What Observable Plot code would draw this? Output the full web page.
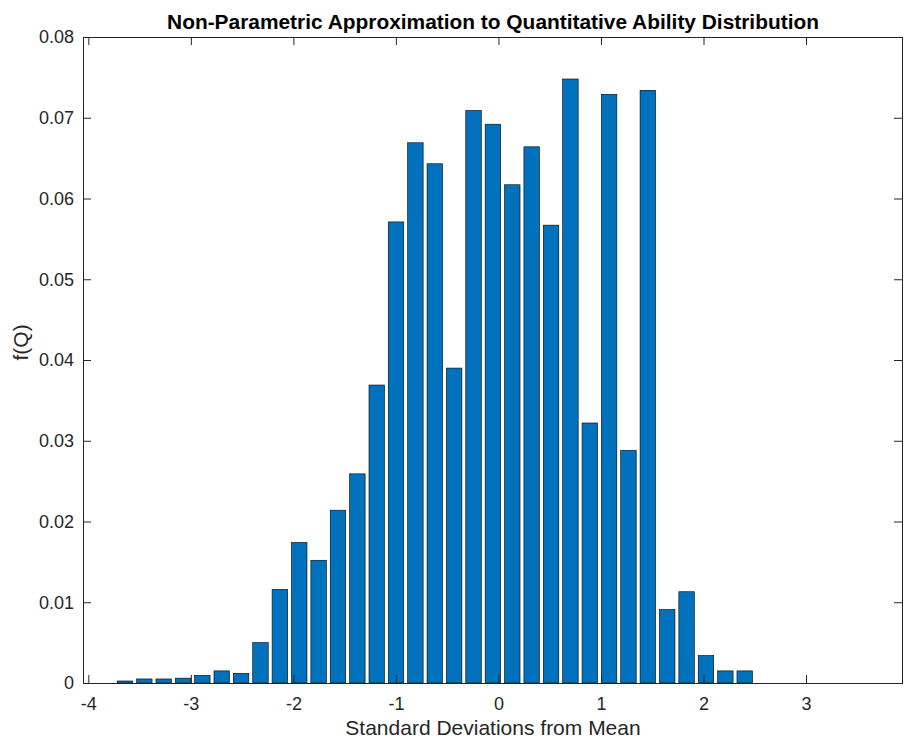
<!DOCTYPE html>
<html>
<head>
<meta charset="utf-8">
<script src="https://cdn.jsdelivr.net/npm/d3@7"></script>
<script src="https://cdn.jsdelivr.net/npm/@observablehq/plot@0.6"></script>
<style>
  html, body { margin: 0; padding: 0; background: #ffffff; }
</style>
</head>
<body>
<div id="chart"></div>
<script>
// ---- Data ----
const binCenters = [
  -3.832, -3.643, -3.454, -3.265, -3.076, -2.888, -2.699, -2.510, -2.321, -2.132,
  -1.943, -1.754, -1.565, -1.376, -1.187, -0.999, -0.810, -0.621, -0.432, -0.243,
  -0.054,  0.135,  0.324,  0.513,  0.702,  0.891,  1.079,  1.268,  1.457,  1.646,
   1.835,  2.024,  2.213,  2.402,  2.591,  2.780,  2.968,  3.157,  3.346,  3.535,
   3.724
];
const density = [
  0.0000, 0.00025, 0.0005, 0.0005, 0.0006, 0.00094, 0.0015, 0.0012, 0.0050, 0.0116,
  0.0174, 0.0152, 0.0214, 0.0259, 0.0369, 0.0571, 0.0669, 0.0643, 0.0390, 0.0709,
  0.0692, 0.0617, 0.0664, 0.0567, 0.0748, 0.0322, 0.0729, 0.0288, 0.0734, 0.0091,
  0.0113, 0.0034, 0.0015, 0.0015, 0.0000, 0.0000, 0.0000, 0.0000, 0.0000, 0.0000,
  0.0000
];
const binWidth = 0.1889;
const barFraction = 0.8;
const xTicks = [-4, -3, -2, -1, 0, 1, 2, 3];
const yTicks = [0, 0.01, 0.02, 0.03, 0.04, 0.05, 0.06, 0.07, 0.08];
const xDomain = [-4.052, 3.936];
const yDomain = [0, 0.08];
const titleText = "Non-Parametric Approximation to Quantitative Ability Distribution";
const xLabelText = "Standard Deviations from Mean";
const yLabelText = "f(Q)";

// ---- Layout ----
const W = 907, H = 741;
const mL = 83, mR = 5, mT = 37, mB = 58;
const plotW = W - mL - mR, plotH = H - mT - mB;
const ink = "#262626";
const tickLen = 8;

const bars = binCenters.map((c, i) => ({c, f: density[i]}));
const half = binWidth * barFraction / 2;

const chart = Plot.plot({
  width: W,
  height: H,
  marginLeft: mL,
  marginRight: mR,
  marginTop: mT,
  marginBottom: mB,
  style: {fontFamily: "'Liberation Sans', Arial, Helvetica, sans-serif", fontSize: "18px", color: ink, background: "#ffffff"},
  x: {domain: xDomain},
  y: {domain: yDomain},
  marks: [
    Plot.rect(bars, {
      x1: d => d.c - half,
      x2: d => d.c + half,
      y1: 0,
      y2: "f",
      fill: "#0072BD",
      stroke: "#000000",
      strokeWidth: 0.6
    }),
    Plot.frame({stroke: ink, strokeWidth: 1}),
    // inward ticks, MATLAB style
    Plot.tickX(xTicks, {x: d => d, insetTop: plotH - tickLen, stroke: ink}),
    Plot.tickX(xTicks, {x: d => d, insetBottom: plotH - tickLen, stroke: ink}),
    Plot.tickY(yTicks, {y: d => d, insetRight: plotW - tickLen, stroke: ink}),
    Plot.tickY(yTicks, {y: d => d, insetLeft: plotW - tickLen, stroke: ink}),
    Plot.axisX({ticks: xTicks, tickSize: 0, tickPadding: 14, label: null, tickFormat: d => String(d), fontSize: 18, fill: ink}),
    Plot.axisY({ticks: yTicks, tickSize: 0, tickPadding: 9.5, label: null, tickFormat: d => d === 0 ? "0" : d.toFixed(2), fontSize: 18, fill: ink}),
    Plot.text([titleText], {text: d => d, frameAnchor: "top", dy: -15, lineAnchor: "middle", fontWeight: "bold", fontSize: 20.9, fill: "#000000"}),
    Plot.text([xLabelText], {text: d => d, frameAnchor: "bottom", dy: 45, lineAnchor: "middle", fontSize: 21, fill: ink}),
    Plot.text([yLabelText], {text: d => d, frameAnchor: "left", dx: -62, rotate: -90, lineAnchor: "middle", fontSize: 21, fill: ink})
  ]
});
document.getElementById("chart").appendChild(chart);
</script>
</body>
</html>
